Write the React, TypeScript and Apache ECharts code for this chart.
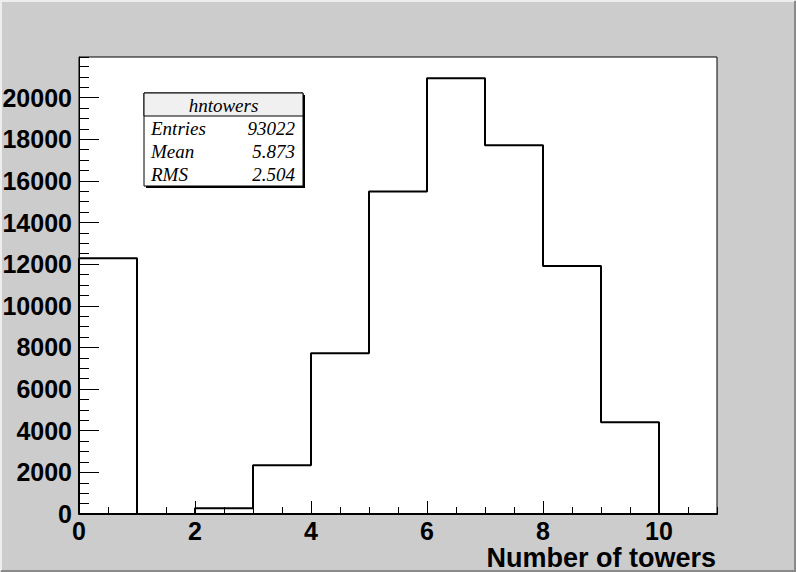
import React, { useEffect, useRef } from "react";
import * as echarts from "echarts";

// Histogram data (bin lower edges and counts)
const binEdges = [0, 1, 2, 3, 4, 5, 6, 7, 8, 9, 10, 11];
const binCounts = [12284, 0, 274, 2340, 7720, 15484, 20932, 17713, 11915, 4405, 0];
const xMin = 0;
const xMax = 11;
const yMin = 0;
const yMax = 21950;
const xMajorStep = 2;
const xMinorStep = 0.5;
const yMajorStep = 2000;
const yMinorStep = 500;

const statsTitle = "hntowers";
const statsLabels = ["Entries", "Mean", "RMS"];
const statsValues = ["93022", "5.873", "2.504"];
const xTitle = "Number of towers";

const W = 796;
const H = 572;

export default function App() {
  const ref = useRef<HTMLDivElement>(null);

  useEffect(() => {
    if (!ref.current) return;
    const chart = echarts.init(ref.current, undefined, { renderer: "svg" });

    // step outline: start at baseline, then each bin's (edge, count), then end edge at 0
    const stepData: [number, number][] = [[binEdges[0], 0]];
    for (let i = 0; i < binCounts.length; i++) {
      stepData.push([binEdges[i], binCounts[i]]);
    }
    stepData.push([binEdges[binEdges.length - 1], 0]);

    const labelFont = {
      fontFamily: "Liberation Sans, Arial, sans-serif",
      fontWeight: "bold" as const,
      fontSize: 25,
      color: "#000",
      formatter: (v: number) => String(v),
    };

    const boxX = 144, boxY = 93, boxW = 159, boxH = 93, headH = 23;
    const rowH = 23;
    const statFont = "italic 19px 'Liberation Serif', 'Times New Roman', serif";

    const statTexts: any[] = [];
    statsLabels.forEach((lab, i) => {
      const cy = boxY + headH + 12 + i * rowH;
      statTexts.push({
        type: "text",
        x: boxX + 7,
        y: cy,
        style: { text: lab, font: statFont, fill: "#000", textAlign: "left", textVerticalAlign: "middle" },
      });
      statTexts.push({
        type: "text",
        x: boxX + boxW - 8,
        y: cy,
        style: { text: statsValues[i], font: statFont, fill: "#000", textAlign: "right", textVerticalAlign: "middle" },
      });
    });

    chart.setOption({
      animation: false,
      backgroundColor: "#cccccc",
      grid: {
        left: 79,
        right: W - 717,
        top: 57,
        bottom: H - 514,
        show: true,
        backgroundColor: "#ffffff",
        borderColor: "#000",
        borderWidth: 1,
        containLabel: false,
        outerBoundsMode: "none",
      },
      xAxis: [
        {
          type: "value",
          min: xMin,
          max: xMax,
          interval: xMajorStep,
          position: "bottom",
          axisLine: { show: true, lineStyle: { color: "#000", width: 2 } },
          axisTick: { show: true, inside: true, length: 13, lineStyle: { color: "#000", width: 1 } },
          axisLabel: { ...labelFont, margin: 4, showMaxLabel: false },
          splitLine: { show: false },
        },
        {
          type: "value",
          min: xMin,
          max: xMax,
          interval: xMinorStep,
          position: "bottom",
          axisLine: { show: false },
          axisTick: { show: true, inside: true, length: 7, lineStyle: { color: "#000", width: 1 } },
          axisLabel: { show: false },
          splitLine: { show: false },
        },
      ],
      yAxis: [
        {
          type: "value",
          min: yMin,
          max: yMax,
          interval: yMajorStep,
          position: "left",
          axisLine: { show: true, lineStyle: { color: "#000", width: 1 } },
          axisTick: { show: true, inside: true, length: 20, lineStyle: { color: "#000", width: 1 } },
          axisLabel: { ...labelFont, margin: 7, showMaxLabel: false },
          splitLine: { show: false },
        },
        {
          type: "value",
          min: yMin,
          max: yMax,
          interval: yMinorStep,
          position: "left",
          axisLine: { show: false },
          axisTick: { show: true, inside: true, length: 10, lineStyle: { color: "#000", width: 1 } },
          axisLabel: { show: false },
          splitLine: { show: false },
        },
      ],
      series: [
        {
          type: "line",
          xAxisIndex: 0,
          yAxisIndex: 0,
          step: "end",
          data: stepData,
          symbol: "none",
          lineStyle: { color: "#000", width: 2 },
          clip: true,
          silent: true,
        },
      ],
      graphic: [
        // canvas bevel
        {
          type: "polyline",
          shape: { points: [[1, H - 1], [1, 1], [W - 1, 1]] },
          style: { stroke: "#eeeeee", lineWidth: 2, fill: null },
        },
        {
          type: "polyline",
          shape: { points: [[1, H - 1], [W - 1, H - 1], [W - 1, 1]] },
          style: { stroke: "#8a8a8a", lineWidth: 2, fill: null },
        },
        // stats box shadow
        {
          type: "rect",
          shape: { x: boxX + 2, y: boxY + 2, width: boxW, height: boxH },
          style: { fill: "#000" },
          z: 100,
        },
        {
          type: "rect",
          shape: { x: boxX, y: boxY, width: boxW, height: boxH },
          style: { fill: "#ffffff", stroke: "#000", lineWidth: 1 },
          z: 101,
        },
        {
          type: "rect",
          shape: { x: boxX, y: boxY, width: boxW, height: headH },
          style: { fill: "#f0f0f0", stroke: "#000", lineWidth: 1 },
          z: 102,
        },
        {
          type: "text",
          x: boxX + boxW / 2,
          y: boxY + headH / 2 + 1,
          z: 103,
          style: { text: statsTitle, font: statFont, fill: "#000", textAlign: "center", textVerticalAlign: "middle" },
        },
        ...statTexts.map((t) => ({ ...t, z: 103 })),
        // x-axis title
        {
          type: "text",
          x: 716,
          y: 558,
          style: {
            text: xTitle,
            font: "bold 27px 'Liberation Sans', Arial, sans-serif",
            fill: "#000",
            textAlign: "right",
            textVerticalAlign: "middle",
          },
        },
      ],
    });

    return () => chart.dispose();
  }, []);

  return (
    <div
      ref={ref}
      style={{ position: "absolute", left: 0, top: 0, width: W, height: H }}
    />
  );
}
